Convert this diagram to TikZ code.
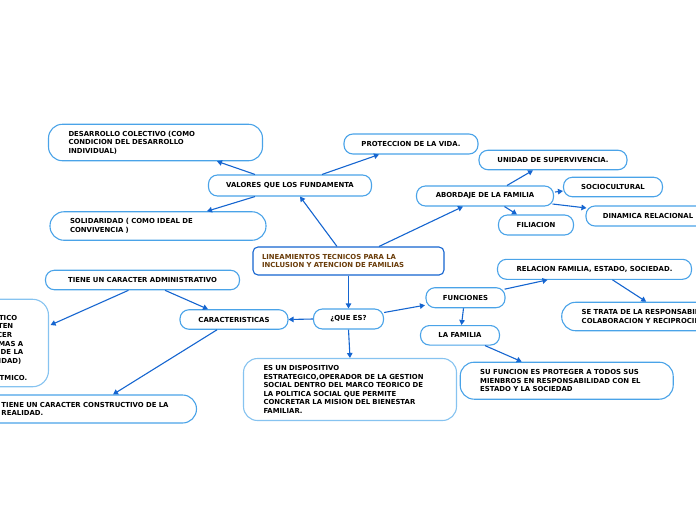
\documentclass[tikz,border=0pt]{standalone}
\usepackage{fontspec}
\setmainfont{DejaVu Sans}
\usetikzlibrary{arrows.meta,calc}
\definecolor{boxblue}{HTML}{4AA3E8}
\definecolor{lightblue}{HTML}{86C3F0}
\definecolor{edgeblue}{HTML}{1565D0}
\definecolor{maintext}{HTML}{6B3D0A}
\newcommand\lblfont{\fontsize{6.9}{8.6}\selectfont\bfseries}
\begin{document}
\begin{tikzpicture}[x=1pt,y=-1pt,
  box/.style={draw=boxblue, line width=1.1pt, rounded corners=9pt, fill=white,
    inner sep=0pt, font=\lblfont, text=black},
  tbox/.style={box, rounded corners=14pt, align=left},
  arr/.style={draw=edgeblue, line width=1.1pt, -{Triangle[length=5pt,width=5.5pt]}}]
\useasboundingbox (0,0) rectangle (696,520);
\clip (0,0) rectangle (696,520);

% nodes
\node[box, draw=edgeblue, rounded corners=5pt, minimum width=191pt, minimum height=28pt,
  text width=173pt, align=left, text=maintext] (main) at (348.5,261)
  {LINEAMIENTOS TECNICOS PARA LA\\INCLUSION Y ATENCION DE FAMILIAS};
\node[box, minimum width=163pt, minimum height=21pt] (valores) at (290,185.5) {VALORES QUE LOS FUNDAMENTA};
\node[tbox, minimum width=214pt, minimum height=36.5pt, text width=174pt] (desarrollo) at (155.5,142.5)
  {DESARROLLO COLECTIVO (COMO\\CONDICION DEL DESARROLLO\\INDIVIDUAL)};
\node[tbox, minimum width=216pt, minimum height=28.5pt, text width=176pt] (solidaridad) at (158,226)
  {SOLIDARIDAD ( COMO IDEAL DE\\CONVIVENCIA )};
\node[box, minimum width=134pt, minimum height=20pt] (proteccion) at (411,144) {PROTECCION DE LA VIDA.};
\node[box, minimum width=137pt, minimum height=20pt] (abordaje) at (485,196) {ABORDAJE DE LA FAMILIA};
\node[box, minimum width=148pt, minimum height=19.5pt] (unidad) at (553,160) {UNIDAD DE SUPERVIVENCIA.};
\node[box, minimum width=99pt, minimum height=19.5pt] (socio) at (613,187) {SOCIOCULTURAL};
\node[box, minimum width=124pt, minimum height=20pt] (dinamica) at (648,216) {DINAMICA RELACIONAL};
\node[box, minimum width=75pt, minimum height=20pt] (filiacion) at (536,225) {FILIACION};
\node[box, minimum width=70pt, minimum height=20pt] (quees) at (348.5,319) {¿QUE ES?};
\node[box, minimum width=108pt, minimum height=19.5pt] (caract) at (234,319.5) {CARACTERISTICAS};
\node[box, minimum width=194pt, minimum height=19.5pt] (admin) at (142.5,280) {TIENE UN CARACTER ADMINISTRATIVO};
\node[tbox, draw=lightblue, rounded corners=16pt, minimum width=158.5pt, minimum height=87.5pt] (leftbox) at (-30.75,343)
  {\rule{0pt}{15pt}\hbox to 106pt{\hss ES UN PROCESO SISTEMATICO}\\
   \hbox to 102pt{\hss Y DINAMICO QUE PERMITEN}\\
   \hbox to 101pt{\hss CONOCER}\\
   \hbox to 112pt{\hss Y DAR RESPUESTA A PROBLEMAS A}\\
   \hbox to 112pt{\hss PARTIR DE LA}\\
   \hbox to 110pt{\hss REALIDAD (COMPLEJIDAD)}\\
   \mbox{}\\
   \hbox to 116pt{\hss ES ALGORITMICO.}};
\node[tbox, minimum width=215pt, minimum height=28pt, text width=175pt] (constructivo) at (89,409)
  {TIENE UN CARACTER CONSTRUCTIVO DE LA\\REALIDAD.};
\node[tbox, draw=lightblue, minimum width=213pt, minimum height=62pt, text width=173pt] (dispositivo) at (350,389.5)
  {ES UN DISPOSITIVO\\ESTRATEGICO,OPERADOR DE LA GESTION\\SOCIAL DENTRO DEL MARCO TEORICO DE\\LA POLITICA SOCIAL QUE PERMITE\\CONCRETAR LA MISION DEL BIENESTAR\\FAMILIAR.};
\node[box, minimum width=79pt, minimum height=20pt] (funciones) at (465.5,297.7) {FUNCIONES};
\node[box, minimum width=79pt, minimum height=19.5pt] (lafamilia) at (460,335.3) {LA FAMILIA};
\node[box, minimum width=194pt, minimum height=20pt] (relacion) at (594.5,269.3) {RELACION FAMILIA, ESTADO, SOCIEDAD.};
\node[tbox, minimum width=210pt, minimum height=28.5pt, text width=170pt] (setrata) at (666.7,316.5)
  {SE TRATA DE LA RESPONSABILIDAD,\\COLABORACION Y RECIPROCIDAD};
\node[tbox, minimum width=213pt, minimum height=37pt, text width=173pt] (sufuncion) at (566.7,380.7)
  {SU FUNCION ES PROTEGER A TODOS SUS\\MIENBROS EN RESPONSABILIDAD CON EL\\ESTADO Y LA SOCIEDAD};

% connectors
\draw[arr] ($(main.north)+(-11.5,0)$) -- ($(valores.south)+(10,0)$);
\draw[arr] ($(main.north)+(30.5,0)$) -- ($(abordaje.south)+(-22,0)$);
\draw[arr] (main.south) -- (quees.north);
\draw[arr] ($(valores.north)+(-35,0)$) -- ($(desarrollo.south)+(61.5,0)$);
\draw[arr] ($(valores.south)+(-35,0)$) -- ($(solidaridad.north)+(49,0)$);
\draw[arr] ($(valores.north)+(32,0)$) -- ($(proteccion.south)+(-32,0)$);
\draw[arr] ($(abordaje.north)+(22,0)$) -- ($(unidad.south)+(-20,0)$);
\draw[arr] ($(abordaje.east)+(1,-4)$) -- ($(socio.west)+(0,4)$);
\draw[arr] ($(abordaje.east)+(-1.5,8)$) -- ($(dinamica.west)+(1,-8)$);
\draw[arr] ($(abordaje.south)+(19.5,0)$) -- ($(filiacion.north)+(-19,0)$);
\draw[arr] (quees.west) -- (caract.east);
\draw[arr] ($(quees.east)+(0,-6.5)$) -- ($(funciones.west)+(-0.5,7.5)$);
\draw[arr] (quees.south) -- (dispositivo.north);
\draw[arr] ($(admin.south)+(-14,0)$) -- ($(leftbox.east)+(1.5,-18)$);
\draw[arr] ($(admin.south)+(22.5,0)$) -- ($(caract.north)+(-26,0)$);
\draw[arr] ($(caract.south)+(-17,0)$) -- ($(constructivo.north)+(24,0)$);
\draw[arr] ($(funciones.east)+(-1,-8.5)$) -- ($(relacion.south)+(-47,0)$);
\draw[arr] ($(funciones.south)+(-2,0)$) -- ($(lafamilia.north)+(1.5,0)$);
\draw[arr] ($(relacion.south)+(18,0)$) -- ($(setrata.north)+(-20.5,0)$);
\draw[arr] ($(lafamilia.south)+(25,0)$) -- ($(sufuncion.north)+(-45,0)$);
\end{tikzpicture}
\end{document}
